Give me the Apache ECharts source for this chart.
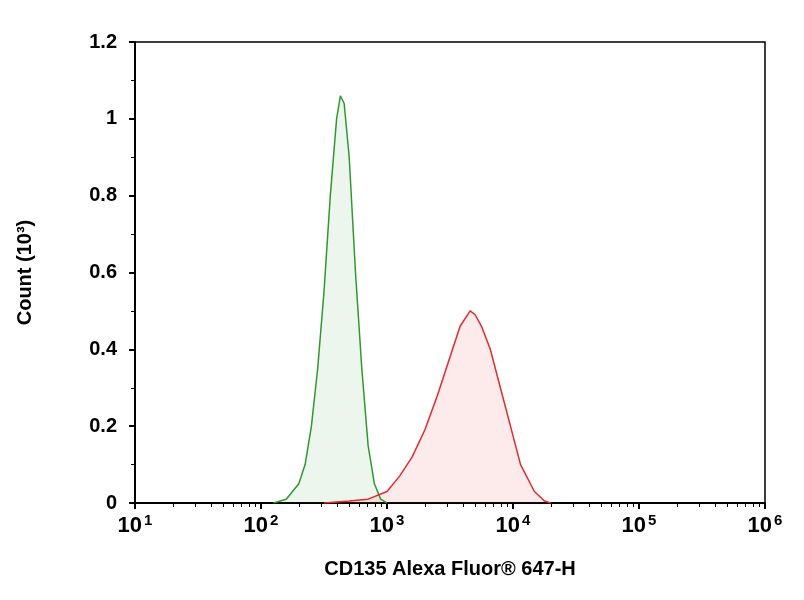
<!DOCTYPE html><html><head><meta charset="utf-8"><script src="https://cdn.jsdelivr.net/npm/echarts@6/dist/echarts.min.js"></script></head><body style="margin:0"><div id="c" style="width:804px;height:600px"></div><script>
const greenLog=[2.1,2.2,2.3,2.35,2.4,2.45,2.5,2.55,2.6,2.63,2.66,2.7,2.75,2.8,2.85,2.9,2.95,3.0];
const greenCnt=[0,0.01,0.05,0.1,0.2,0.35,0.55,0.8,1.0,1.06,1.04,0.9,0.6,0.35,0.15,0.05,0.01,0];
const redLog=[2.5,2.7,2.85,3.0,3.1,3.2,3.3,3.4,3.5,3.58,3.66,3.7,3.75,3.82,3.9,3.98,4.06,4.17,4.25,4.3];
const redCnt=[0,0.005,0.01,0.03,0.07,0.12,0.19,0.28,0.38,0.46,0.5,0.49,0.46,0.4,0.3,0.2,0.1,0.03,0.005,0];
const yTicks=['0','0.2','0.4','0.6','0.8','1','1.2'];
const c=echarts.init(document.getElementById('c'));
const lab={fontFamily:'Liberation Sans',fontWeight:'bold',color:'#000'};
c.setOption({
grid:{left:135,right:39,top:42,bottom:97,show:true,borderColor:'#000',borderWidth:1.5},
xAxis:{type:'log',min:10,max:1e6,logBase:10,
 axisLine:{lineStyle:{color:'#000',width:2}},axisTick:{length:6,lineStyle:{color:'#000',width:2}},
 minorTick:{show:true,splitNumber:9,length:4,lineStyle:{color:'#000'}},splitLine:{show:false},
 axisLabel:Object.assign({fontSize:22,margin:10,formatter:v=>'10{s|'+Math.round(Math.log10(v))+'}',
   rich:{s:{fontSize:15,fontFamily:'Liberation Sans',fontWeight:'bold',color:'#000',verticalAlign:'top',padding:[0,0,10,2]}}},lab),
 name:'CD135 Alexa Fluor® 647-H',nameLocation:'middle',nameGap:56,nameTextStyle:Object.assign({fontSize:20},lab)},
yAxis:{type:'value',min:0,max:1.2,interval:0.2,
 axisLine:{show:true,lineStyle:{color:'#000',width:2}},axisTick:{show:true,length:6,lineStyle:{color:'#000',width:2}},
 minorTick:{show:true,splitNumber:2,length:4,lineStyle:{color:'#000'}},splitLine:{show:false},
 axisLabel:Object.assign({fontSize:20,margin:18,formatter:v=>yTicks[Math.round(v/0.2)]},lab),
 name:'Count (10³)',nameLocation:'middle',nameGap:100,nameTextStyle:Object.assign({fontSize:20},lab)},
series:[
{type:'line',data:greenLog.map((l,i)=>[Math.pow(10,l),greenCnt[i]]),showSymbol:false,lineStyle:{color:'#2e9a2e',width:1.5},areaStyle:{color:'rgba(46,154,46,0.12)'}},
{type:'line',data:redLog.map((l,i)=>[Math.pow(10,l),redCnt[i]]),showSymbol:false,lineStyle:{color:'#e8282a',width:1.5},areaStyle:{color:'rgba(240,60,60,0.15)'}}
]});
</script></body></html>
